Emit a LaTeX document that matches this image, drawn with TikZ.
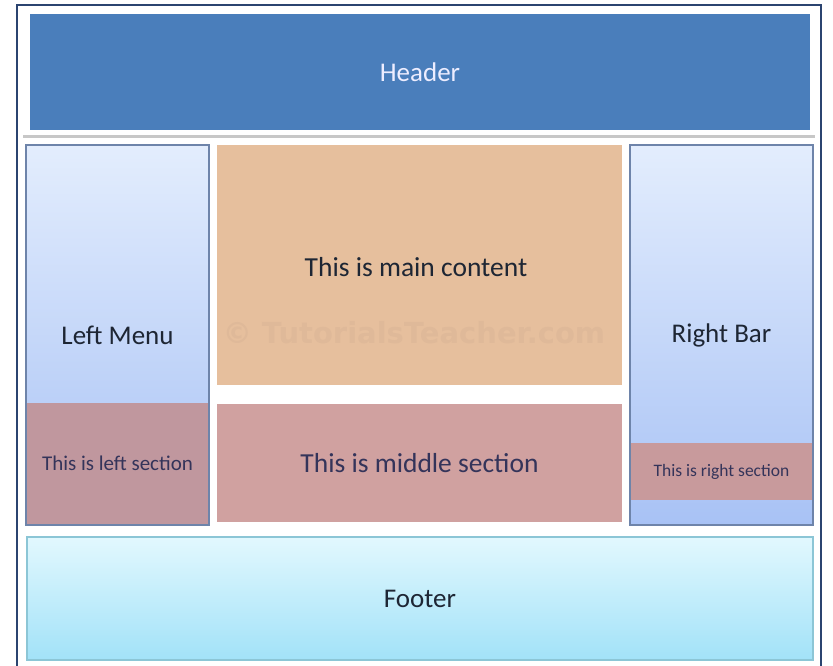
\documentclass[tikz,border=0pt]{standalone}
\usepackage{fontspec}
\setmainfont{Carlito}
\newfontfamily\wmfont{DejaVu Sans}
\definecolor{frameblue}{HTML}{2B4470}
\definecolor{headblue}{HTML}{4A7EBB}
\definecolor{colborder}{HTML}{6E84AA}
\definecolor{coltop}{HTML}{E3EDFD}
\definecolor{colbot}{HTML}{A8C2F5}
\definecolor{leftsec}{HTML}{C0979E}
\definecolor{midsec}{HTML}{D0A1A0}
\definecolor{rightsec}{HTML}{C89A9C}
\definecolor{maincol}{HTML}{E6BF9D}
\definecolor{foottop}{HTML}{E2F8FE}
\definecolor{footbot}{HTML}{A2E2F8}
\definecolor{footborder}{HTML}{8CC6D6}
\definecolor{darktext}{HTML}{1E2634}
\definecolor{sectext}{HTML}{34345A}
\definecolor{wmcol}{HTML}{DFB999}
\begin{document}
\begin{tikzpicture}[x=1pt,y=-1pt,
  box/.style={rectangle, inner sep=0pt, outer sep=0pt, anchor=north west},
  bigtext/.style={font=\fontsize{27}{30}\selectfont, text=darktext}
]
\useasboundingbox (0,0) rectangle (833,665);
\fill[white] (0,0) rectangle (833,665);
% outer frame
\draw[frameblue, line width=2.5pt] (17,5) rectangle (821,690);
% header shadow line
\draw[black!22, line width=2.5pt] (23,136.5) -- (815,136.5);
% header
\node[box, fill=headblue, minimum width=780pt, minimum height=116pt,
      font=\fontsize{27}{30}\selectfont, text=white!93!blue] (header) at (30,14) {Header};
% left menu column
\node[box, draw=colborder, line width=1.5pt, top color=coltop, bottom color=colbot,
      minimum width=183pt, minimum height=380pt, bigtext] (leftmenu) at (26,145) {Left Menu};
\node[box, fill=leftsec, minimum width=181.5pt, minimum height=121pt,
      font=\fontsize{21}{24}\selectfont, text=sectext] (leftsec) at (26.75,403) {This is left section};
% main content
\node[box, fill=maincol, minimum width=405pt, minimum height=240pt] (main) at (217,145) {};
\node[bigtext, font=\fontsize{27.5}{30}\selectfont] (maintext) at (416,267) {This is main content};
\node[font=\wmfont\bfseries\fontsize{29}{32}\selectfont, text=wmcol] (wm) at (414,333) {© TutorialsTeacher.com};
% middle section
\node[box, fill=midsec, minimum width=405pt, minimum height=118pt,
      font=\fontsize{27.5}{30}\selectfont, text=sectext] (midsec) at (217,404) {This is middle section};
% right bar
\node[box, draw=colborder, line width=1.5pt, top color=coltop, bottom color=colbot,
      minimum width=183pt, minimum height=380pt, bigtext] (rightbar) at (630,145) {Right Bar};
\node[box, fill=rightsec, minimum width=181.5pt, minimum height=57pt,
      font=\fontsize{17.5}{20}\selectfont, text=sectext] (rightsec) at (630.75,443) {This is right section};
% footer
\node[box, draw=footborder, line width=1.5pt, top color=foottop, bottom color=footbot,
      minimum width=786pt, minimum height=123pt, bigtext] (footer) at (27,537) {Footer};
\end{tikzpicture}
\end{document}
